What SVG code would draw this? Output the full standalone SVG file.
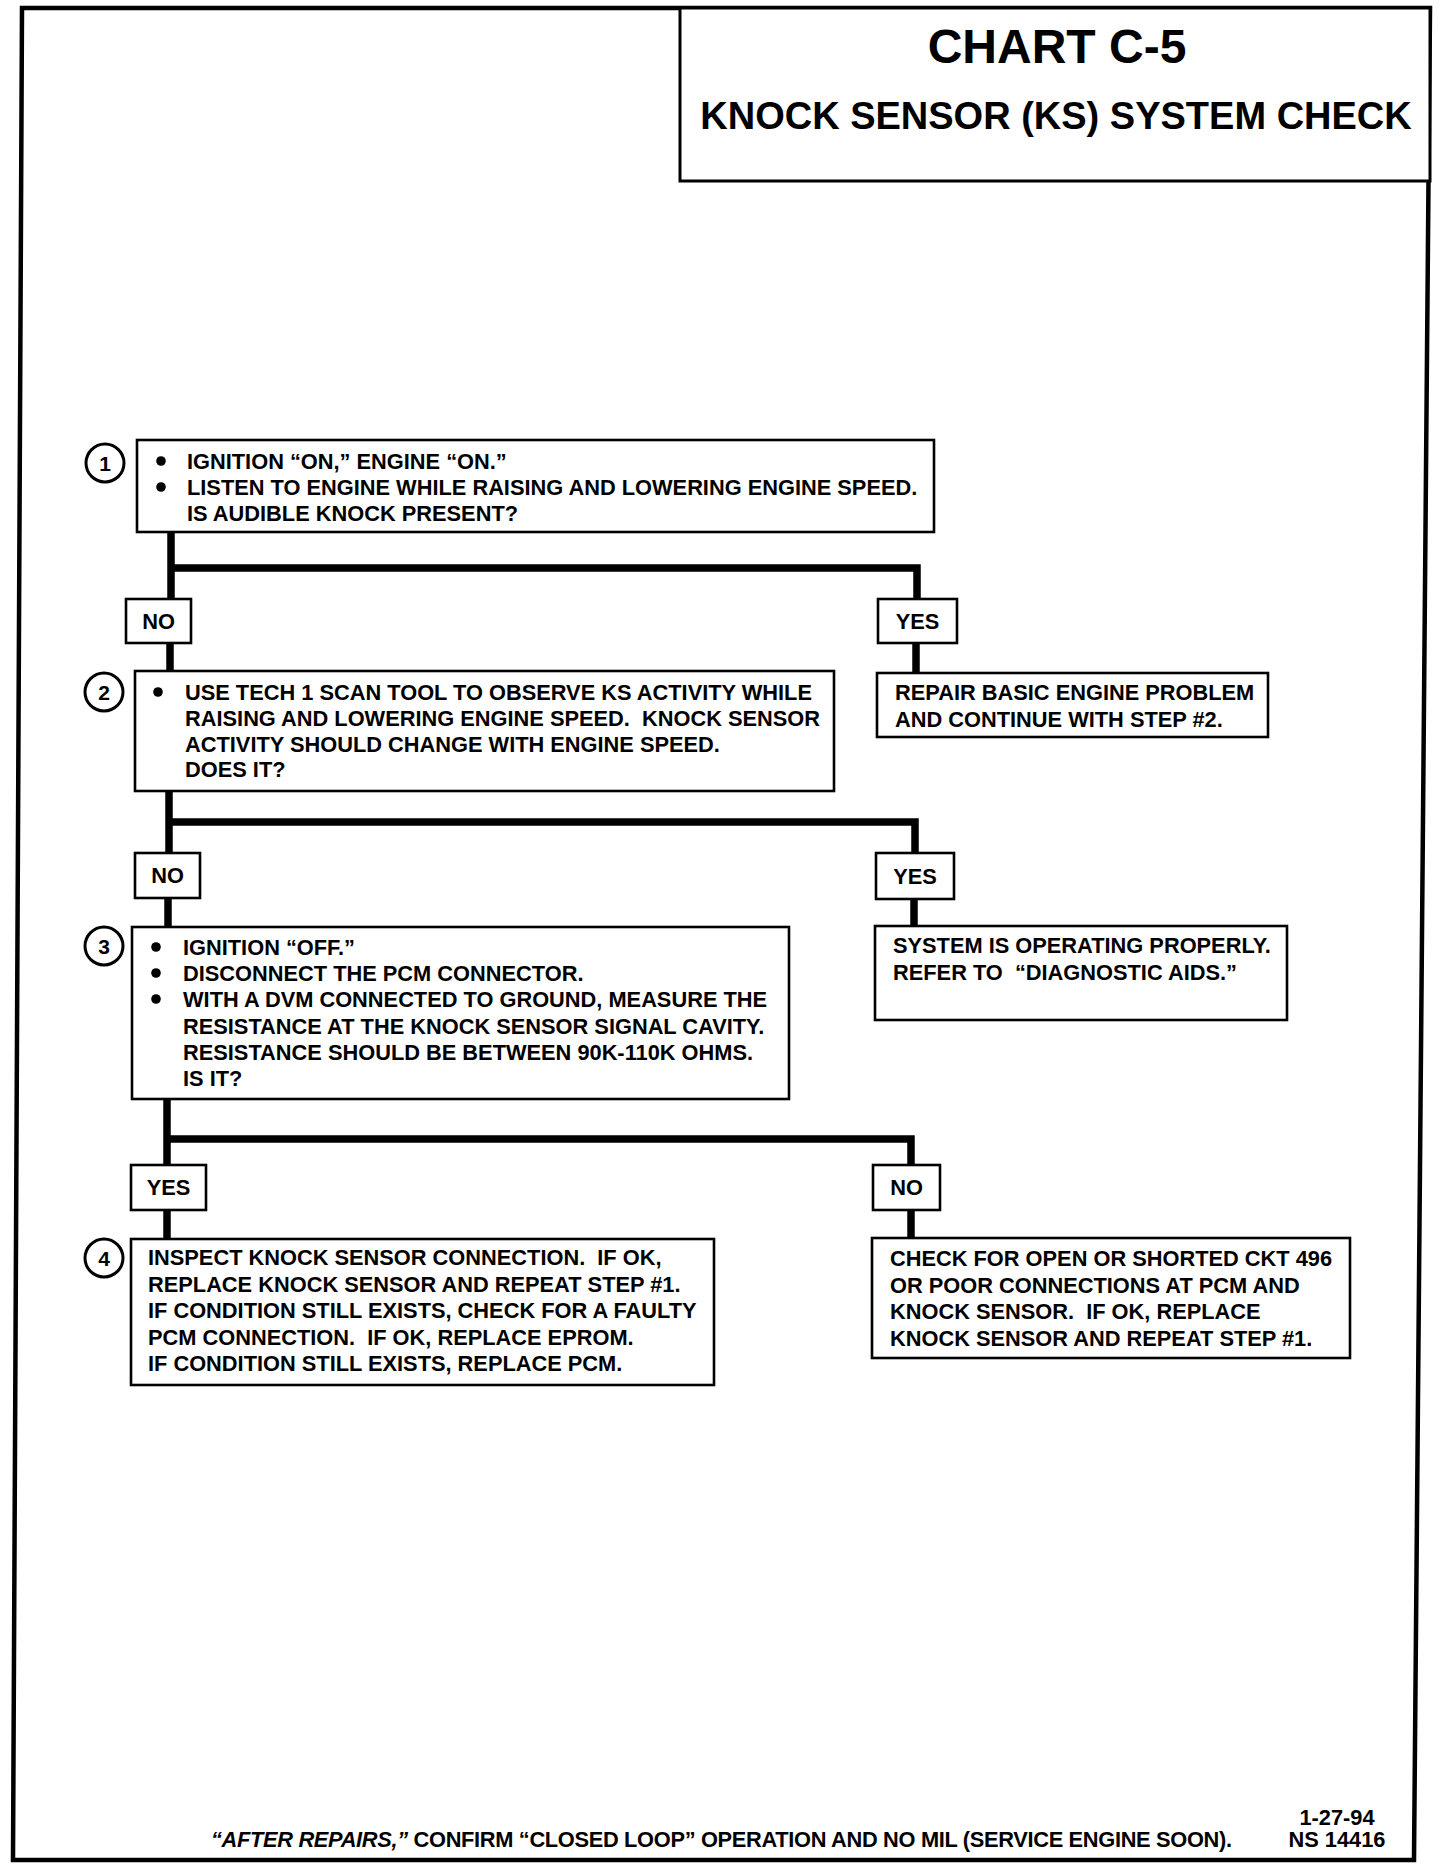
<svg xmlns="http://www.w3.org/2000/svg" width="1456" height="1872" viewBox="0 0 1456 1872">
<style>
  .t { font-family: "Liberation Sans", Arial, sans-serif; font-weight: bold; font-size: 21.8px; fill: #000; white-space: pre; }
  .lbl { font-family: "Liberation Sans", Arial, sans-serif; font-weight: bold; font-size: 21.8px; fill: #000; text-anchor: middle; }
  .num { font-family: "Liberation Sans", Arial, sans-serif; font-weight: bold; font-size: 21px; fill: #000; text-anchor: middle; }
  .box { fill: #fff; stroke: #000; stroke-width: 2.6; }
  .ring { fill: #fff; stroke: #000; stroke-width: 3; }
  .dot { fill: #000; }
  .conn { fill: none; stroke: #000; stroke-width: 7.5; stroke-linejoin: miter; stroke-linecap: butt; }
  .frame { fill: none; stroke: #000; stroke-width: 4.5; }
</style>
<rect x="0" y="0" width="1456" height="1872" fill="#fff"/>
<path class="frame" d="M22,8 L1430,8 L1414,1860 L13,1860 Z"/>

<g id="title">
  <rect x="680" y="8" width="750" height="173" fill="#fff" stroke="#000" stroke-width="3"/>
  <text x="1057" y="63" font-family="Liberation Sans, Arial, sans-serif" font-weight="bold" font-size="48" text-anchor="middle">CHART C-5</text>
  <text x="1056" y="129" font-family="Liberation Sans, Arial, sans-serif" font-weight="bold" font-size="38" text-anchor="middle">KNOCK SENSOR (KS) SYSTEM CHECK</text>
</g>

<g id="connectors">
  <path class="conn" d="M171,532 V599"/>
  <path class="conn" d="M171,568 H917 V599"/>
  <path class="conn" d="M170,643 V671"/>
  <path class="conn" d="M916,643 V673"/>
  <path class="conn" d="M169,791 V853"/>
  <path class="conn" d="M169,822 H915 V853"/>
  <path class="conn" d="M168,898 V927"/>
  <path class="conn" d="M914,899 V926"/>
  <path class="conn" d="M167,1099 V1165"/>
  <path class="conn" d="M167,1139 H911 V1165"/>
  <path class="conn" d="M167,1210 V1239"/>
  <path class="conn" d="M911,1210 V1238"/>
</g>

<g id="step1">
  <circle class="ring" cx="105" cy="463" r="19"/>
  <text class="num" x="105" y="470.5">1</text>
  <rect class="box" x="137" y="440" width="797" height="92"/>
  <circle class="dot" cx="161" cy="461" r="4.8"/>
  <circle class="dot" cx="161" cy="487" r="4.8"/>
  <text class="t"><tspan x="187" y="469">IGNITION “ON,” ENGINE “ON.”</tspan><tspan x="187" y="495">LISTEN TO ENGINE WHILE RAISING AND LOWERING ENGINE SPEED.</tspan><tspan x="187" y="521">IS AUDIBLE KNOCK PRESENT?</tspan></text>
</g>

<g id="label-no-1">
  <rect class="box" x="126" y="599" width="65" height="44"/>
  <text class="lbl" x="158.5" y="629">NO</text>
</g>
<g id="label-yes-1">
  <rect class="box" x="878" y="599" width="79" height="44"/>
  <text class="lbl" x="917.5" y="629">YES</text>
</g>

<g id="repair">
  <rect class="box" x="877" y="673" width="391" height="64"/>
  <text class="t"><tspan x="895" y="700">REPAIR BASIC ENGINE PROBLEM</tspan><tspan x="895" y="727">AND CONTINUE WITH STEP #2.</tspan></text>
</g>

<g id="step2">
  <circle class="ring" cx="104" cy="692" r="19"/>
  <text class="num" x="104" y="699.5">2</text>
  <rect class="box" x="135" y="671" width="699" height="120"/>
  <circle class="dot" cx="158" cy="692" r="4.8"/>
  <text class="t"><tspan x="185" y="700">USE TECH 1 SCAN TOOL TO OBSERVE KS ACTIVITY WHILE</tspan><tspan x="185" y="726">RAISING AND LOWERING ENGINE SPEED.  KNOCK SENSOR</tspan><tspan x="185" y="752">ACTIVITY SHOULD CHANGE WITH ENGINE SPEED.</tspan><tspan x="185" y="777">DOES IT?</tspan></text>
</g>

<g id="label-no-2">
  <rect class="box" x="135" y="853" width="65" height="45"/>
  <text class="lbl" x="167.5" y="883">NO</text>
</g>
<g id="label-yes-2">
  <rect class="box" x="876" y="853" width="78" height="46"/>
  <text class="lbl" x="915" y="884">YES</text>
</g>

<g id="system-ok">
  <rect class="box" x="875" y="926" width="412" height="94"/>
  <text class="t"><tspan x="893" y="953">SYSTEM IS OPERATING PROPERLY.</tspan><tspan x="893" y="980">REFER TO  “DIAGNOSTIC AIDS.”</tspan></text>
</g>

<g id="step3">
  <circle class="ring" cx="104" cy="946" r="19"/>
  <text class="num" x="104" y="953.5">3</text>
  <rect class="box" x="132" y="927" width="657" height="172"/>
  <circle class="dot" cx="156" cy="947" r="4.8"/>
  <circle class="dot" cx="156" cy="973" r="4.8"/>
  <circle class="dot" cx="156" cy="999" r="4.8"/>
  <text class="t"><tspan x="183" y="955">IGNITION “OFF.”</tspan><tspan x="183" y="981">DISCONNECT THE PCM CONNECTOR.</tspan><tspan x="183" y="1007">WITH A DVM CONNECTED TO GROUND, MEASURE THE</tspan><tspan x="183" y="1034">RESISTANCE AT THE KNOCK SENSOR SIGNAL CAVITY.</tspan><tspan x="183" y="1060">RESISTANCE SHOULD BE BETWEEN 90K-110K OHMS.</tspan><tspan x="183" y="1086">IS IT?</tspan></text>
</g>

<g id="label-yes-3">
  <rect class="box" x="131" y="1165" width="75" height="45"/>
  <text class="lbl" x="168.5" y="1195">YES</text>
</g>
<g id="label-no-3">
  <rect class="box" x="873" y="1165" width="67" height="45"/>
  <text class="lbl" x="906.5" y="1195">NO</text>
</g>

<g id="step4">
  <circle class="ring" cx="104" cy="1258" r="19"/>
  <text class="num" x="104" y="1265.5">4</text>
  <rect class="box" x="131" y="1239" width="583" height="146"/>
  <text class="t"><tspan x="148" y="1265">INSPECT KNOCK SENSOR CONNECTION.  IF OK,</tspan><tspan x="148" y="1291.5">REPLACE KNOCK SENSOR AND REPEAT STEP #1.</tspan><tspan x="148" y="1318">IF CONDITION STILL EXISTS, CHECK FOR A FAULTY</tspan><tspan x="148" y="1344.5">PCM CONNECTION.  IF OK, REPLACE EPROM.</tspan><tspan x="148" y="1371">IF CONDITION STILL EXISTS, REPLACE PCM.</tspan></text>
</g>

<g id="check-ckt">
  <rect class="box" x="872" y="1238" width="478" height="120"/>
  <text class="t"><tspan x="890" y="1266">CHECK FOR OPEN OR SHORTED CKT 496</tspan><tspan x="890" y="1292.5">OR POOR CONNECTIONS AT PCM AND</tspan><tspan x="890" y="1319">KNOCK SENSOR.  IF OK, REPLACE</tspan><tspan x="890" y="1345.5">KNOCK SENSOR AND REPEAT STEP #1.</tspan></text>
</g>

<g id="footer">
  <text class="t" x="211" y="1847" font-size="20.5" textLength="1021"><tspan font-style="italic">“AFTER REPAIRS,”</tspan> CONFIRM “CLOSED LOOP” OPERATION AND NO MIL (SERVICE ENGINE SOON).</text>
  <text class="t" x="1337" y="1825" font-size="20.5" style="text-anchor:middle">1-27-94</text>
  <text class="t" x="1337" y="1847" font-size="20.5" style="text-anchor:middle">NS 14416</text>
</g>
</svg>
